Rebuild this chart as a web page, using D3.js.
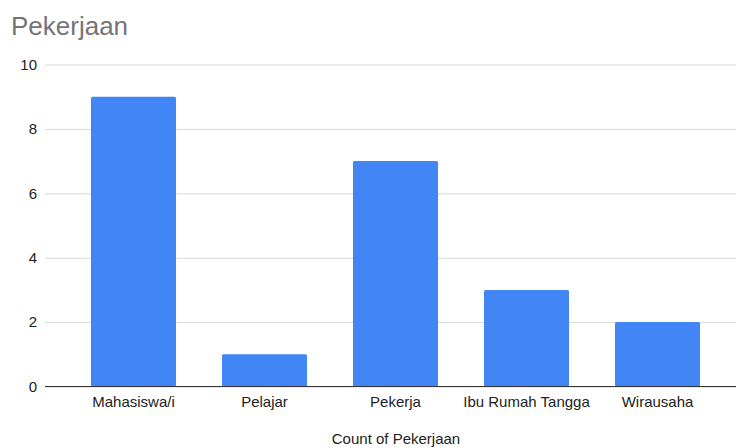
<!DOCTYPE html>
<html><head><meta charset="utf-8">
<script src="https://cdn.jsdelivr.net/npm/d3@7"></script>
<style>body{margin:0;background:#fff;overflow:hidden}svg{display:block}text{font-family:Arial,"Liberation Sans",sans-serif}</style>
</head><body><svg id="c" width="736" height="448"></svg>
<script>
const categories = ["Mahasiswa/i","Pelajar","Pekerja","Ibu Rumah Tangga","Wirausaha"];
const counts = [9,1,7,3,2];
const yTicks = [0,2,4,6,8,10];
const title = "Pekerjaan";
const xTitle = "Count of Pekerjaan";

(function(){
const svg = d3.select("#c");
const FONT = "Arial,'Liberation Sans',sans-serif";
const mLeft = 45, mRight = 746, mTop = 64.5, mBottom = 386.5;
const x = d3.scaleBand().domain(categories).range([mLeft,mRight]).paddingInner(0.351).paddingOuter(0.351);
const y = d3.scaleLinear().domain([0,10]).range([mBottom,mTop]);

svg.append("text").attr("x",11).attr("y",35).attr("font-size",26).attr("fill","#757575").text(title);

const ya = svg.append("g").attr("transform",`translate(${mLeft},0)`)
  .call(d3.axisLeft(y).tickValues(yTicks).tickSize(-(mRight-mLeft)).tickPadding(8).tickFormat(d3.format("d")));
ya.select(".domain").remove();
ya.selectAll(".tick line").attr("stroke","#d9d9d9").attr("stroke-width",1);
ya.selectAll(".tick text").attr("font-size",15).attr("fill","#222").attr("font-family",FONT);

svg.append("g").selectAll("rect").data(categories).join("rect")
  .attr("x",d=>x(d)).attr("width",x.bandwidth())
  .attr("y",(d,i)=>y(counts[i])).attr("height",(d,i)=>y(0)-y(counts[i]))
  .attr("rx",1.5)
  .attr("fill","#4285f4");

svg.append("line").attr("x1",mLeft).attr("x2",mRight).attr("y1",y(0)).attr("y2",y(0)).attr("stroke","#333").attr("stroke-width",1);

const xa = svg.append("g").attr("transform",`translate(0,${mBottom})`)
  .call(d3.axisBottom(x).tickSize(0).tickPadding(10));
xa.select(".domain").remove();
xa.selectAll(".tick text").attr("font-size",15).attr("fill","#222").attr("font-family",FONT);

svg.append("text").attr("x",396).attr("y",444).attr("text-anchor","middle").attr("font-size",15).attr("fill","#222").text(xTitle);
})();
</script></body></html>
